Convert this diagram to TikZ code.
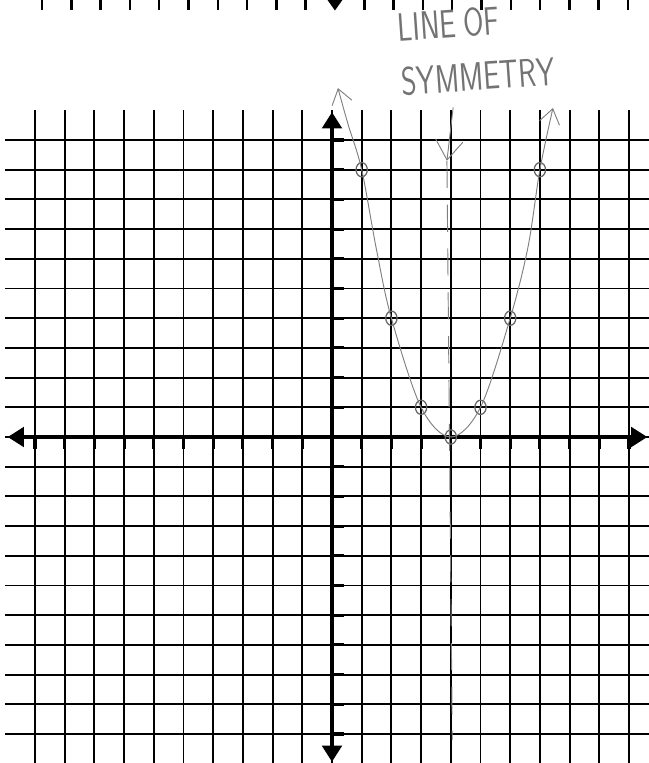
\documentclass[tikz,border=0pt]{standalone}
\usetikzlibrary{arrows.meta,positioning,shapes.geometric}

\begin{document}
\begin{tikzpicture}[gridline/.style={line width=1.8pt}, axis/.style={line width=4pt, {Triangle[length=5.5mm,width=6.5mm]}-{Triangle[length=5.5mm,width=6.5mm]}}, tick/.style={line width=3pt}, pencil/.style={line width=0.9pt, black!50}, dot/.style={ellipse,draw=black!60,line width=1.2pt,minimum width=3.8mm,minimum height=4.8mm,inner sep=0pt}, hand/.style={font=\sffamily\fontsize{38}{52}\selectfont, text=black!55, align=left, inner sep=0pt}]
\useasboundingbox (-11.178,-10.976) rectangle (10.673,14.714);
% strip of the graph above
\foreach \k in {-10,...,-1,1,2,...,10} \draw[line width=2.4pt] (0.1+\k*0.9865,14.714)--++(0,-0.34);
\fill (-0.15,14.714)--(0.35,14.714)--(0.1,14.36)--cycle;
% grid
\foreach \x in {-10,...,10} \draw[gridline] (\x,-11)--(\x,11);
\foreach \y in {-10,...,10} \draw[gridline] (-11,\y)--(11,\y);
\draw[axis] (-10.92,0)--(10.62,0); \draw[axis] (0,-10.94)--(0,10.94);
\foreach \k in {-10,...,-1,1,2,...,10} {\draw[tick] (\k,0)--(\k,-0.4); \draw[tick] (0,\k)--(0.4,\k);}
% points
\node[dot] (p1) at (1,9) {}; \node[dot] (p2) at (2,4) {}; \node[dot] (p3) at (3,1) {}; \node[dot] (p4) at (4,0) {};
\node[dot] (p5) at (5,1) {}; \node[dot] (p6) at (6,4) {}; \node[dot] (p7) at (7,9) {};
\coordinate (lefttip) at (0.2,11.75); \coordinate (righttip) at (7.44,11.08);
\draw[pencil, {Straight Barb[length=4mm,angle=70:6mm]}-{Straight Barb[length=4mm,angle=70:6mm]}] plot[smooth,tension=0.55] coordinates {(lefttip) (0.55,10.5) (p1) (1.5,6.3) (p2) (p3) (p4) (p5) (p6) (6.6,6.4) (p7) (righttip)};
% line of symmetry
\node[hand, rotate=4, xscale=0.74] (symlabel) at (4.85,13.05) {LINE\hspace{0.25em}OF\\SYMMETRY};
\coordinate (symtail) at (4.08,11.1); \coordinate (symtip) at (3.87,9.3); \coordinate (symbot) at (4.05,-10.2);
\draw[pencil, -{Straight Barb[length=5mm,angle=70:8mm]}] (symtail)--(symtip);
\draw[pencil, dash pattern=on 26pt off 16pt] (symtip)--(symbot);
\end{tikzpicture}
\end{document}
